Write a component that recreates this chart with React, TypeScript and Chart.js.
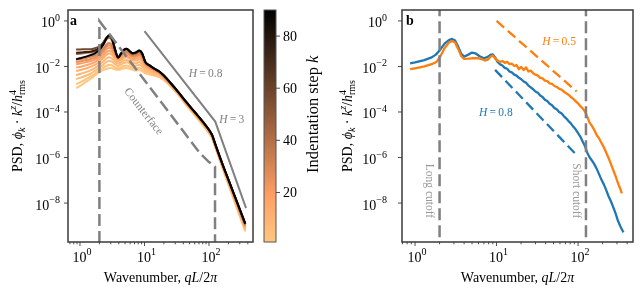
import React, { useEffect, useRef } from 'react';
import { Chart, registerables } from 'chart.js';
Chart.register(...registerables);

const FAM = '"Liberation Serif", "DejaVu Serif", "Times New Roman", serif';
const FRAME = '#3a3a3a';
const GREY = '#808080';
const BLUE = '#1f77b4';
const ORANGE = '#ff7f0e';

// ---------- ticks ----------
const X_TICK_EXPONENTS = [0, 1, 2];
const Y_TICK_EXPONENTS = [0, -2, -4, -6, -8];
const CBAR_TICKS = [20, 40, 60, 80];
const K_MIN = 1;
const K_MAX = 90;

// ---------- panel a : PSD per indentation step (log10 of PSD) ----------
const STEPS = [1, 3, 6, 9, 12, 16, 20, 25, 30, 42, 58, 75, 90];
const A_Q = [0.87, 1.0, 1.2, 1.45, 1.7, 2.0, 2.3, 2.6, 2.85, 3.15, 3.5, 3.9, 4.3, 4.8, 5.3, 5.9, 6.6, 7.4, 8.3, 9.2,
  10.3, 12, 14, 17, 20, 26, 34, 45, 60, 80, 100, 112, 124, 160, 210, 280, 365];
const A_K1 = [-2.95, -2.85, -2.7, -2.55, -2.4, -2.25, -2.15, -2.1, -2.07, -2.08, -2.12, -2.15, -2.12, -2.08, -2.07, -2.1, -2.15, -2.18, -2.15, -2.2,
  -2.3, -2.35, -2.4, -2.48, -2.6, -2.9, -3.27, -3.72, -4.14, -4.57, -4.93, -5.16, -5.52, -6.42, -7.35, -8.35, -9.25];
const A_K3 = [-2.78, -2.7, -2.58, -2.45, -2.32, -2.17, -2.05, -1.97, -1.93, -1.96, -2.03, -2.08, -2.04, -1.98, -1.96, -2.0, -2.06, -2.09, -2.05, -2.12,
  -2.24, -2.31, -2.37, -2.45, -2.58, -2.88, -3.26, -3.7, -4.12, -4.55, -4.91, -5.14, -5.5, -6.4, -7.32, -8.3, -9.2];
const A_K6 = [-2.55, -2.5, -2.42, -2.32, -2.2, -2.05, -1.92, -1.8, -1.75, -1.8, -1.9, -1.98, -1.92, -1.85, -1.82, -1.88, -1.95, -1.97, -1.92, -2.0,
  -2.15, -2.25, -2.32, -2.4, -2.55, -2.86, -3.24, -3.68, -4.1, -4.52, -4.89, -5.11, -5.47, -6.36, -7.28, -8.25, -9.15];
const A_K9 = [-2.38, -2.33, -2.26, -2.17, -2.07, -1.93, -1.78, -1.64, -1.6, -1.66, -1.79, -1.88, -1.82, -1.74, -1.72, -1.77, -1.85, -1.86, -1.8, -1.89,
  -2.06, -2.17, -2.26, -2.36, -2.52, -2.84, -3.22, -3.66, -4.08, -4.5, -4.87, -5.1, -5.46, -6.34, -7.25, -8.22, -9.12];
const A_K12 = [-2.2, -2.16, -2.1, -2.02, -1.93, -1.8, -1.63, -1.48, -1.43, -1.5, -1.66, -1.78, -1.72, -1.62, -1.6, -1.66, -1.74, -1.74, -1.68, -1.78,
  -1.98, -2.1, -2.2, -2.32, -2.5, -2.82, -3.21, -3.64, -4.06, -4.48, -4.85, -5.08, -5.44, -6.32, -7.22, -8.18, -9.08];
const A_K16 = [-2.05, -2.02, -1.96, -1.89, -1.81, -1.69, -1.52, -1.36, -1.31, -1.39, -1.57, -1.7, -1.64, -1.55, -1.52, -1.59, -1.67, -1.66, -1.6, -1.7,
  -1.94, -2.07, -2.18, -2.3, -2.48, -2.81, -3.2, -3.63, -4.05, -4.47, -4.83, -5.06, -5.43, -6.31, -7.2, -8.15, -9.05];
const A_K20 = [-1.9, -1.87, -1.82, -1.76, -1.7, -1.58, -1.4, -1.23, -1.18, -1.28, -1.48, -1.63, -1.56, -1.47, -1.44, -1.51, -1.59, -1.57, -1.51, -1.61,
  -1.9, -2.04, -2.15, -2.28, -2.46, -2.8, -3.19, -3.62, -4.04, -4.46, -4.82, -5.05, -5.42, -6.3, -7.18, -8.12, -9.02];
const A_K25 = [-1.8, -1.78, -1.73, -1.67, -1.61, -1.49, -1.31, -1.12, -1.07, -1.18, -1.43, -1.6, -1.52, -1.42, -1.39, -1.47, -1.55, -1.53, -1.47, -1.58,
  -1.87, -2.02, -2.13, -2.27, -2.45, -2.79, -3.18, -3.61, -4.03, -4.45, -4.81, -5.04, -5.41, -6.29, -7.17, -8.11, -9.0];
const A_K30 = [-1.7, -1.68, -1.63, -1.58, -1.52, -1.4, -1.22, -1.02, -0.97, -1.08, -1.38, -1.58, -1.48, -1.37, -1.34, -1.42, -1.51, -1.49, -1.42, -1.54,
  -1.85, -2.0, -2.12, -2.26, -2.44, -2.78, -3.17, -3.6, -4.02, -4.44, -4.8, -5.04, -5.4, -6.28, -7.16, -8.1, -8.98];
const A_K42 = [-1.45, -1.44, -1.41, -1.38, -1.32, -1.21, -1.01, -0.8, -0.74, -0.88, -1.3, -1.58, -1.45, -1.3, -1.26, -1.36, -1.45, -1.42, -1.35, -1.47,
  -1.82, -1.97, -2.1, -2.24, -2.42, -2.77, -3.16, -3.59, -4.01, -4.43, -4.79, -5.03, -5.39, -6.27, -7.14, -8.07, -8.94];
const A_K58 = [-1.25, -1.25, -1.24, -1.24, -1.2, -1.11, -0.94, -0.72, -0.66, -0.81, -1.27, -1.6, -1.45, -1.28, -1.23, -1.34, -1.43, -1.4, -1.32, -1.44,
  -1.8, -1.96, -2.09, -2.23, -2.41, -2.76, -3.15, -3.58, -4.0, -4.42, -4.78, -5.02, -5.38, -6.26, -7.13, -8.06, -8.92];
const A_K75 = [-1.4, -1.39, -1.37, -1.35, -1.3, -1.18, -0.99, -0.73, -0.64, -0.79, -1.26, -1.61, -1.45, -1.27, -1.22, -1.33, -1.42, -1.38, -1.3, -1.43,
  -1.8, -1.95, -2.08, -2.22, -2.4, -2.76, -3.15, -3.58, -4.0, -4.42, -4.78, -5.02, -5.38, -6.25, -7.12, -8.05, -8.9];
const A_K90 = [-1.68, -1.64, -1.58, -1.5, -1.42, -1.28, -1.05, -0.75, -0.62, -0.78, -1.25, -1.62, -1.45, -1.27, -1.22, -1.33, -1.42, -1.38, -1.3, -1.42,
  -1.8, -1.95, -2.08, -2.22, -2.4, -2.76, -3.15, -3.58, -4.0, -4.42, -4.78, -5.02, -5.38, -6.25, -7.12, -8.05, -8.9];
const A_CURVES = [A_K1, A_K3, A_K6, A_K9, A_K12, A_K16, A_K20, A_K25, A_K30, A_K42, A_K58, A_K75, A_K90];

// counterface PSD (dashed) and H reference lines (solid)
const A_CF_Q = [2, 2, 72, 100, 124, 124];
const A_CF_LOG = [-10.5, 0, -5.8, -6.2, -6.4, -10.5];
const A_H_Q = [10, 125, 375];
const A_H_LOG = [-0.45, -4.42, -8.22];

// ---------- panel b ----------
const B_Q_BLUE = [0.87, 1.0, 1.3, 1.6, 1.8, 2.05, 2.3, 2.6, 2.85, 3.1, 3.4, 3.7, 4.0, 4.5, 5.0, 5.5, 6.2, 7.0, 7.8, 8.5, 9.0, 9.6,
  10.3, 11.0, 11.8, 12.6, 13.5, 14.4, 15.4, 16.5, 17.6, 18.8, 20.1, 21.5, 23.0, 24.6, 26.3, 28.1, 30.0, 32.1, 34.3, 36.7, 39.2,
  41.9, 44.8, 47.9, 51.2, 54.7, 58.5, 62.5, 66.8, 71.4, 76.3, 81.6, 87.2, 93.2, 99.6, 106.5, 113.8, 121.6, 130, 139, 148.5,
  158.7, 169.6, 181.3, 193.8, 207, 221, 236.5, 252.8, 270, 288.6, 308.5, 329.8, 352, 362];
const B_BLUE = [-1.86, -1.82, -1.72, -1.6, -1.48, -1.25, -1.0, -0.84, -0.79, -0.86, -1.15, -1.45, -1.57, -1.48, -1.39, -1.42, -1.55, -1.64, -1.58, -1.48, -1.47, -1.6,
  -1.8, -1.9, -1.96, -2.06, -2.1, -2.22, -2.26, -2.36, -2.4, -2.5, -2.56, -2.66, -2.72, -2.84, -2.92, -3.0, -3.1, -3.16, -3.28, -3.34, -3.46,
  -3.52, -3.64, -3.7, -3.82, -3.88, -4.0, -4.06, -4.18, -4.28, -4.4, -4.5, -4.64, -4.76, -4.92, -5.08, -5.3, -5.5, -5.8, -6.0, -6.14,
  -6.3, -6.5, -6.74, -6.98, -7.18, -7.42, -7.7, -7.92, -8.18, -8.45, -8.78, -9.02, -9.22, -9.28];
const B_Q_ORANGE = [0.87, 1.0, 1.3, 1.6, 1.85, 2.05, 2.3, 2.6, 2.85, 3.1, 3.4, 3.7, 4.0, 4.5, 5.0, 5.5, 6.0, 6.6, 7.2, 7.8, 8.5, 9.0, 9.6,
  10.3, 11.0, 11.8, 12.6, 13.5, 14.4, 15.4, 16.5, 17.6, 18.8, 20.1, 21.5, 23.0, 24.6, 26.3, 28.1, 30.0, 32.1, 34.3, 36.7, 39.2,
  41.9, 44.8, 47.9, 51.2, 54.7, 58.5, 62.5, 66.8, 71.4, 76.3, 81.6, 87.2, 93.2, 99.6, 106.5, 113.8, 121.6, 130, 139, 148.5,
  158.7, 169.6, 181.3, 193.8, 207, 221, 236.5, 252.8, 270, 288.6, 308.5, 329.8, 344];
const B_ORANGE = [-2.12, -2.08, -2.0, -1.9, -1.79, -1.55, -1.2, -0.95, -0.88, -0.95, -1.25, -1.55, -1.67, -1.66, -1.64, -1.63, -1.64, -1.68, -1.74, -1.7, -1.56, -1.52, -1.65,
  -1.74, -1.8, -1.76, -1.84, -1.8, -1.9, -1.88, -1.98, -1.94, -2.12, -2.02, -2.16, -2.04, -2.22, -2.18, -2.3, -2.36, -2.4, -2.5, -2.52, -2.62,
  -2.64, -2.74, -2.76, -2.86, -2.9, -2.98, -3.02, -3.1, -3.18, -3.24, -3.34, -3.42, -3.52, -3.62, -3.74, -3.84, -3.98, -4.22, -4.48, -4.62,
  -4.8, -5.02, -5.16, -5.36, -5.55, -5.78, -6.02, -6.28, -6.55, -6.82, -7.12, -7.38, -7.57];
const B_H05_Q = [10, 96];
const B_H05_LOG = [0.0, -3.1];
const B_H08_Q = [9.6, 96];
const B_H08_LOG = [-2.15, -5.89];
const B_CUTOFFS = [2, 125];

// ---------- helpers ----------
type Run = { t: string; s?: number; it?: boolean; b?: boolean; dy?: number; na?: boolean };
const fontOf = (r: Run) => `${r.it ? 'italic ' : ''}${r.b ? 'bold ' : ''}${r.s ?? 14}px ${FAM}`;

function drawRuns(ctx: CanvasRenderingContext2D, runs: Run[], x: number, y: number,
  opts: { align?: 'left' | 'center' | 'right'; rot?: number; color?: string; mid?: number } = {}) {
  ctx.save();
  ctx.translate(x, y);
  if (opts.rot) ctx.rotate(opts.rot);
  ctx.fillStyle = opts.color ?? '#000';
  ctx.textBaseline = 'alphabetic';
  ctx.textAlign = 'left';
  const ws = runs.map((r) => { ctx.font = fontOf(r); return ctx.measureText(r.t).width; });
  let total = 0;
  runs.forEach((r, i) => { if (!r.na) total += ws[i]; });
  let cx = opts.align === 'center' ? -total / 2 : opts.align === 'right' ? -total : 0;
  const base = opts.mid ?? 0;
  runs.forEach((r, i) => {
    ctx.font = fontOf(r);
    ctx.fillText(r.t, cx, base + (r.dy ?? 0));
    if (!r.na) cx += ws[i];
  });
  ctx.restore();
}

const expStr = (e: number) => (e < 0 ? '\u2212' + Math.abs(e) : String(e));
const tickRuns = (e: number): Run[] => [{ t: '10' }, { t: expStr(e), s: 10, dy: -6.5 }];

const pts = (qs: number[], logs: number[]) => qs.map((q, i) => ({ x: q, y: Math.pow(10, logs[i]) }));

function copper(k: number) {
  const x = (K_MAX - k) / (K_MAX - K_MIN);
  const r = Math.min(1, 1.25 * x), g = 0.7812 * x, b = 0.4975 * x;
  return `rgb(${Math.round(r * 255)},${Math.round(g * 255)},${Math.round(b * 255)})`;
}

const Y_LABEL: Run[] = [
  { t: 'PSD, ' }, { t: '\u03d5', it: true }, { t: 'k', it: true, s: 10, dy: 3 }, { t: ' \u00b7 ' },
  { t: 'k', it: true }, { t: 'z', it: true, s: 10, dy: -6 }, { t: '/' }, { t: 'h', it: true },
  { t: '4', s: 10, dy: -6, na: true }, { t: 'rms', s: 10, dy: 3 },
];
const X_LABEL: Run[] = [{ t: 'Wavenumber, ' }, { t: 'qL', it: true }, { t: '/2' }, { t: '\u03c0', it: true }];
const hRuns = (v: string): Run[] => [{ t: 'H', it: true, s: 11.5 }, { t: '\u2009=\u2009' + v, s: 11.5 }];

function axesPlugin(panel: 'a' | 'b', yLabelDx: number, letterDx: number, yTickGap: number,
  annotate: (ctx: CanvasRenderingContext2D, X: (q: number) => number, Y: (e: number) => number) => void) {
  return {
    id: 'deco' + panel,
    afterDraw(chart: any) {
      const ctx: CanvasRenderingContext2D = chart.ctx;
      const a = chart.chartArea;
      const xs = chart.scales.x, ys = chart.scales.y;
      const X = (q: number) => xs.getPixelForValue(q);
      const Y = (e: number) => ys.getPixelForValue(Math.pow(10, e));
      ctx.save();
      annotate(ctx, X, Y);
      ctx.strokeStyle = FRAME;
      ctx.lineWidth = 0.9;
      for (let n = -1; n <= 3; n++) {
        for (let m = 1; m <= 9; m++) {
          const v = m * Math.pow(10, n);
          if (v < xs.min || v > xs.max) continue;
          const px = X(v);
          const len = m === 1 ? 4 : 2.3;
          ctx.beginPath(); ctx.moveTo(px, a.bottom); ctx.lineTo(px, a.bottom + len); ctx.stroke();
        }
      }
      X_TICK_EXPONENTS.forEach((e) => drawRuns(ctx, tickRuns(e), X(Math.pow(10, e)) + 2, a.bottom + 19.5, { align: 'center' }));
      Y_TICK_EXPONENTS.forEach((e) => {
        const py = Y(e);
        ctx.beginPath(); ctx.moveTo(a.left - 4, py); ctx.lineTo(a.left, py); ctx.stroke();
        drawRuns(ctx, tickRuns(e), a.left - yTickGap, py + 6.5, { align: 'right' });
      });
      ctx.lineWidth = 1.5;
      ctx.strokeRect(a.left, a.top, a.right - a.left, a.bottom - a.top);
      drawRuns(ctx, [{ t: panel, b: true, s: 14 }], a.left + letterDx, a.top + 15, { align: 'center' });
      drawRuns(ctx, X_LABEL, (a.left + a.right) / 2, a.bottom + 39.5, { align: 'center' });
      drawRuns(ctx, Y_LABEL, a.left - yLabelDx + 4.5, (a.top + a.bottom) / 2, { align: 'center', rot: -Math.PI / 2 });
      ctx.restore();
    },
  };
}

function logScales(xmin: number, xmax: number, yWidth: number) {
  return {
    x: {
      type: 'logarithmic', min: xmin, max: xmax, bounds: 'data',
      ticks: { display: false }, grid: { display: false }, border: { display: false },
      afterFit: (s: any) => { s.height = 53; },
    },
    y: {
      type: 'logarithmic', min: Math.pow(10, -9.71), max: Math.pow(10, 0.48), bounds: 'data',
      ticks: { display: false }, grid: { display: false }, border: { display: false },
      afterFit: (s: any) => { s.width = yWidth; },
    },
  };
}

const baseOpts = {
  responsive: false, animation: false, devicePixelRatio: 1,
  plugins: { legend: { display: false }, tooltip: { enabled: false } },
  elements: { point: { radius: 0 } },
  events: [] as any[],
};

function cfgA(): any {
  const curves = STEPS.map((k, i) => ({
    data: pts(A_Q, A_CURVES[i]), borderColor: copper(k), borderWidth: 2,
    cubicInterpolationMode: 'monotone', order: 100 - k, borderJoinStyle: 'round',
  }));
  return {
    type: 'line',
    data: {
      datasets: [
        ...curves,
        { data: pts(A_CF_Q, A_CF_LOG), borderColor: GREY, borderWidth: 2.5, borderDash: [12, 5], order: 1 },
        { data: pts(A_H_Q, A_H_LOG), borderColor: GREY, borderWidth: 2, order: 0 },
      ],
    },
    options: {
      ...baseOpts,
      layout: { padding: { top: 10, right: 5, left: 0, bottom: 0 } },
      scales: logScales(0.652, 481, 68),
    },
    plugins: [axesPlugin('a', 51, 5.5, 8, (ctx, X, Y) => {
      drawRuns(ctx, hRuns('0.8'), X(88.3), Y(-2.29), { align: 'center', color: GREY, mid: 3.8 });
      drawRuns(ctx, hRuns('3'), X(225), Y(-4.31), { align: 'center', color: GREY, mid: 3.8 });
      drawRuns(ctx, [{ t: 'Counterface', s: 11.5 }], X(9.83), Y(-3.96), { align: 'center', color: GREY, rot: 52 * Math.PI / 180, mid: 3.8 });
    })],
  };
}

function cfgB(): any {
  return {
    type: 'line',
    data: {
      datasets: [
        { data: pts(B_Q_BLUE, B_BLUE), borderColor: BLUE, borderWidth: 2.3, order: 4, borderJoinStyle: 'round' },
        { data: pts(B_Q_ORANGE, B_ORANGE), borderColor: ORANGE, borderWidth: 2.3, order: 3, borderJoinStyle: 'round' },
        { data: pts(B_H05_Q, B_H05_LOG), borderColor: ORANGE, borderWidth: 2.3, borderDash: [10, 5], order: 2 },
        { data: pts(B_H08_Q, B_H08_LOG), borderColor: BLUE, borderWidth: 2.3, borderDash: [10, 5], order: 2 },
        ...B_CUTOFFS.map((q) => ({ data: [{ x: q, y: 1e-11 }, { x: q, y: 10 }], borderColor: GREY, borderWidth: 2.5, borderDash: [12, 5], order: 0 })),
      ],
    },
    options: {
      ...baseOpts,
      layout: { padding: { top: 10, right: 10, left: 0, bottom: 0 } },
      scales: logScales(0.692, 472, 72),
    },
    plugins: [axesPlugin('b', 55, 8, 15, (ctx, X, Y) => {
      drawRuns(ctx, hRuns('0.5'), X(58.5), Y(-0.9), { align: 'center', color: ORANGE, mid: 3.8 });
      drawRuns(ctx, hRuns('0.8'), X(9.78), Y(-4.0), { align: 'center', color: BLUE, mid: 3.8 });
      drawRuns(ctx, [{ t: 'Long cutoff', s: 11.5 }], X(1.53), Y(-7.47), { align: 'center', color: '#9a9a9a', rot: Math.PI / 2, mid: 3.8 });
      drawRuns(ctx, [{ t: 'Short cutoff', s: 11.5 }], X(95.9), Y(-7.46), { align: 'center', color: '#9a9a9a', rot: Math.PI / 2, mid: 3.8 });
    })],
  };
}

function cfgCbar(): any {
  return {
    type: 'line',
    data: { datasets: [] },
    options: {
      ...baseOpts,
      layout: { padding: { top: 10, right: 0, left: 6, bottom: 53 } },
      scales: {
        x: { type: 'linear', display: false, min: 0, max: 1 },
        y: {
          type: 'linear', position: 'right', min: K_MIN, max: K_MAX,
          ticks: { display: false }, grid: { display: false }, border: { display: false },
          afterFit: (s: any) => { s.width = 54; },
        },
      },
    },
    plugins: [{
      id: 'cbar',
      afterDraw(chart: any) {
        const ctx: CanvasRenderingContext2D = chart.ctx;
        const a = chart.chartArea;
        const ys = chart.scales.y;
        const yTop = ys.getPixelForValue(K_MAX), yBot = ys.getPixelForValue(K_MIN);
        ctx.save();
        const g = ctx.createLinearGradient(0, yTop, 0, yBot);
        g.addColorStop(0, copper(K_MAX));
        g.addColorStop(0.8, copper(K_MAX - 0.8 * (K_MAX - K_MIN)));
        g.addColorStop(1, copper(K_MIN));
        ctx.fillStyle = g;
        ctx.fillRect(a.left, yTop, a.right - a.left, yBot - yTop);
        ctx.strokeStyle = '#555';
        ctx.lineWidth = 1;
        ctx.strokeRect(a.left, yTop, a.right - a.left, yBot - yTop);
        ctx.strokeStyle = FRAME;
        ctx.lineWidth = 0.9;
        CBAR_TICKS.forEach((t) => {
          const py = ys.getPixelForValue(t);
          ctx.beginPath(); ctx.moveTo(a.right, py); ctx.lineTo(a.right + 4, py); ctx.stroke();
          drawRuns(ctx, [{ t: String(t) }], a.right + 7, py + 4.8, { align: 'left' });
        });
        drawRuns(ctx, [{ t: 'Indentation step ', s: 16.5 }, { t: 'k', it: true, s: 16.5 }], a.right + 36 + 5.5, ys.getPixelForValue(50), { align: 'center', rot: -Math.PI / 2 });
        ctx.restore();
      },
    }],
  };
}

export default function App() {
  const rA = useRef<HTMLCanvasElement>(null);
  const rC = useRef<HTMLCanvasElement>(null);
  const rB = useRef<HTMLCanvasElement>(null);
  useEffect(() => {
    const charts = [
      new Chart(rA.current as HTMLCanvasElement, cfgA()),
      new Chart(rC.current as HTMLCanvasElement, cfgCbar()),
      new Chart(rB.current as HTMLCanvasElement, cfgB()),
    ];
    return () => charts.forEach((c) => c.destroy());
  }, []);
  const cs = (left: number, w: number): React.CSSProperties => ({ position: 'absolute', left, top: 0, width: w, height: 295, display: 'block' });
  return (
    <div style={{ position: 'absolute', left: 0, top: 0, width: 643, height: 295, background: '#fff', overflow: 'hidden' }}>
      <canvas ref={rA} width={258} height={295} style={cs(0, 258)} />
      <canvas ref={rC} width={72} height={295} style={cs(258, 72)} />
      <canvas ref={rB} width={313} height={295} style={cs(330, 313)} />
    </div>
  );
}
